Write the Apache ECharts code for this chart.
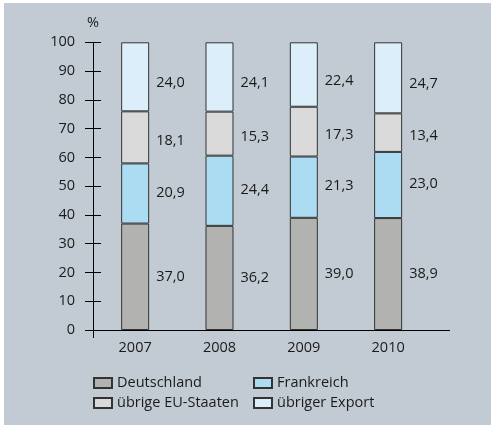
<!DOCTYPE html>
<html>
<head>
<meta charset="utf-8">
<script src="https://cdn.jsdelivr.net/npm/echarts@6/dist/echarts.min.js"></script>
<style>
html,body{margin:0;padding:0;background:#fff;}
#chart{width:491px;height:425px;}
</style>
</head>
<body>
<div id="chart"></div>
<script>
const categories = ['2007', '2008', '2009', '2010'];
const deutschland = [37.0, 36.2, 39.0, 38.9];
const frankreich = [20.9, 24.4, 21.3, 23.0];
const uebrigeEU = [18.1, 15.3, 17.3, 13.4];
const uebrigerExport = [24.0, 24.1, 22.4, 24.7];
const yTicks = [0, 10, 20, 30, 40, 50, 60, 70, 80, 90, 100];

const FONT = '"Open Sans", "Noto Sans", sans-serif';
const FS = 14.5;
const TXT = '#1a1a1a';

function fmt(v) { return v.toFixed(1).replace('.', ','); }

function mkSeries(name, data, color, dy) {
  return {
    name: name, type: 'bar', stack: 'total', data: data, barWidth: 28,
    itemStyle: { color: color, borderColor: '#333', borderWidth: 1 },
    label: {
      show: true, position: 'right', distance: 7, offset: [0, dy],
      formatter: p => fmt(p.value), color: TXT, fontSize: FS, fontFamily: FONT
    },
    emphasis: { disabled: true }
  };
}

const chart = echarts.init(document.getElementById('chart'), null, { renderer: 'canvas' });
const gridLeft = 93, gridTop = 42.3, gridRight = 60.7, gridBottom = 95;

const option = {
  animation: false,
  backgroundColor: '#c2cbd3',
  textStyle: { fontFamily: FONT },
  graphic: [
    { type: 'rect', z: 100, shape: { x: 0, y: 0, width: 491, height: 3 }, style: { fill: '#ffffff' } },
    { type: 'rect', z: 100, shape: { x: 0, y: 0, width: 4, height: 425 }, style: { fill: '#ffffff' } },
    { type: 'line', z: 10, shape: { x1: 85, y1: 330.5, x2: 450, y2: 330.5 }, style: { stroke: '#000', lineWidth: 1 } },
    { type: 'line', z: 10, shape: { x1: 93.5, y1: 330, x2: 93.5, y2: 338 }, style: { stroke: '#000', lineWidth: 1 } }
  ],
  grid: { left: gridLeft, top: gridTop, right: gridRight, bottom: gridBottom, containLabel: false },
  xAxis: {
    type: 'category', data: categories,
    axisLine: { show: true, onZero: false, lineStyle: { color: '#000', width: 1 } },
    axisTick: { show: false },
    axisLabel: { color: TXT, fontSize: FS, fontFamily: FONT, margin: 10 },
    z: 5
  },
  yAxis: [
    {
      type: 'value', min: 0, max: 100, interval: 10,
      name: '%', nameLocation: 'end', nameGap: 12,
      nameTextStyle: { color: TXT, fontSize: FS, fontFamily: FONT, align: 'center' },
      axisLine: { show: true, onZero: false, lineStyle: { color: '#000', width: 1 } },
      axisTick: { show: true, inside: false, length: 8, lineStyle: { color: '#000', width: 1 } },
      axisLabel: { color: TXT, fontSize: FS, fontFamily: FONT, margin: 18,
        formatter: v => yTicks.includes(v) ? String(v) : '' },
      splitLine: { show: false }
    },
    {
      type: 'value', min: 0, max: 100, interval: 10, position: 'left',
      axisLine: { show: false },
      axisTick: { show: true, inside: true, length: 8, lineStyle: { color: '#000', width: 1 } },
      axisLabel: { show: false },
      splitLine: { show: false }
    }
  ],
  legend: [
    {
      data: ['Deutschland', 'übrige EU-Staaten'], orient: 'vertical',
      left: 93, top: 375.5, itemGap: 5, itemWidth: 18, itemHeight: 10, icon: 'rect',
      selectedMode: false, padding: 0,
      textStyle: { color: TXT, fontSize: FS, fontFamily: FONT, lineHeight: 14 }
    },
    {
      data: ['Frankreich', 'übriger Export'], orient: 'vertical',
      left: 253, top: 375.5, itemGap: 5, itemWidth: 18, itemHeight: 10, icon: 'rect',
      selectedMode: false, padding: 0,
      textStyle: { color: TXT, fontSize: FS, fontFamily: FONT, lineHeight: 14 }
    }
  ],
  series: [
    mkSeries('Deutschland', deutschland, '#b2b2b0', 0),
    mkSeries('Frankreich', frankreich, '#acdcf2', -1),
    mkSeries('übrige EU-Staaten', uebrigeEU, '#dadada', 3.5),
    mkSeries('übriger Export', uebrigerExport, '#dbeefa', 6)
  ]
};
chart.setOption(option);
</script>
</body>
</html>
